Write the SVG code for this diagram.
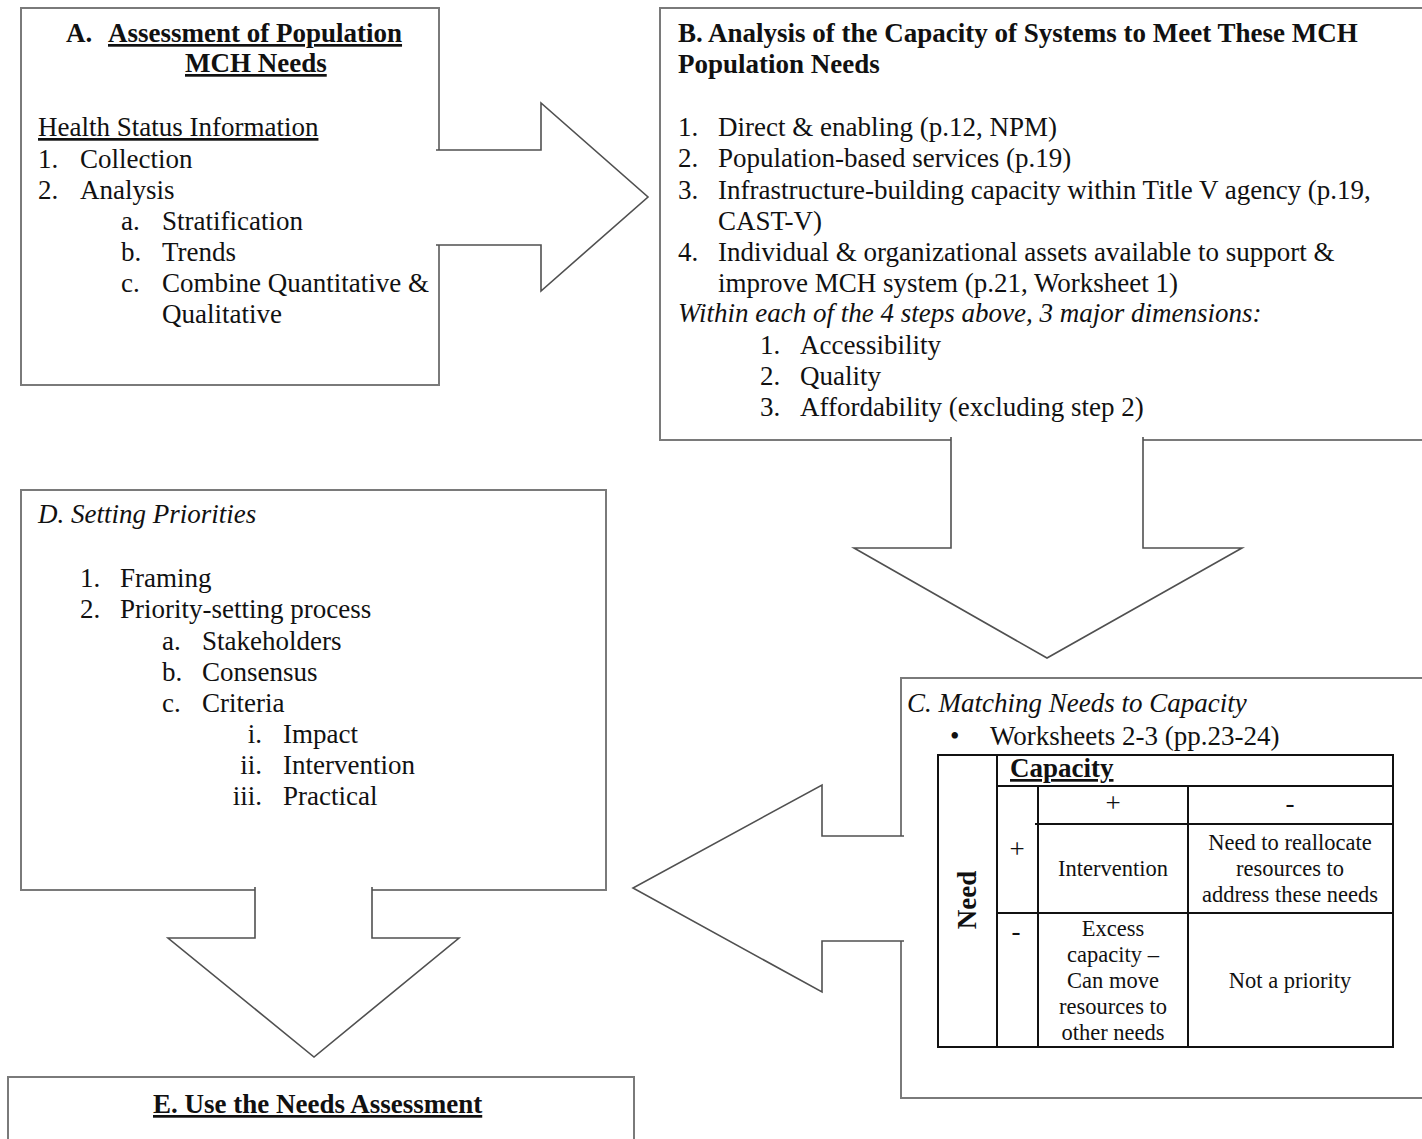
<svg xmlns="http://www.w3.org/2000/svg" width="1422" height="1139" viewBox="0 0 1422 1139">
<style>
  .box { fill: #ffffff; stroke: #7a7a7a; stroke-width: 2; }
  .arrow { fill: #ffffff; stroke: #505050; stroke-width: 1.6; stroke-linejoin: miter; }
  .t { font-family: "Liberation Serif", "Times New Roman", serif; font-size: 27px; fill: #111; }
  .b { font-weight: bold; }
  .i { font-style: italic; }
  .u { text-decoration: underline; }
  .s { font-family: "Liberation Serif", "Times New Roman", serif; font-size: 22.5px; fill: #111; text-anchor: middle; }
  .pm { font-size: 27px; }
  .tl { stroke: #111; stroke-width: 2; fill: none; }
</style>
<rect width="1422" height="1139" fill="#ffffff"/>

<g id="nodeA">
  <rect class="box" x="21" y="8" width="418" height="377"/>
  <text class="t b" x="66" y="42">A.</text>
  <text class="t b u" x="108" y="42">Assessment of Population</text>
  <text class="t b u" x="185" y="72">MCH Needs</text>
  <text class="t u" x="38" y="136">Health Status Information</text>
  <text class="t" x="38" y="168">1.</text><text class="t" x="80" y="168">Collection</text>
  <text class="t" x="38" y="199">2.</text><text class="t" x="80" y="199">Analysis</text>
  <text class="t" x="121" y="230">a.</text><text class="t" x="162" y="230">Stratification</text>
  <text class="t" x="121" y="261">b.</text><text class="t" x="162" y="261">Trends</text>
  <text class="t" x="121" y="292">c.</text><text class="t" x="162" y="292">Combine Quantitative &amp;</text>
  <text class="t" x="162" y="323">Qualitative</text>
</g>

<g id="nodeB">
  <rect class="box" x="660" y="8" width="800" height="432"/>
  <text class="t b" x="678" y="42">B. Analysis of the Capacity of Systems to Meet These MCH</text>
  <text class="t b" x="678" y="73">Population Needs</text>
  <text class="t" x="678" y="136">1.</text><text class="t" x="718" y="136">Direct &amp; enabling (p.12, NPM)</text>
  <text class="t" x="678" y="167">2.</text><text class="t" x="718" y="167">Population-based services (p.19)</text>
  <text class="t" x="678" y="199">3.</text><text class="t" x="718" y="199">Infrastructure-building capacity within Title V agency (p.19,</text>
  <text class="t" x="718" y="230">CAST-V)</text>
  <text class="t" x="678" y="261">4.</text><text class="t" x="718" y="261">Individual &amp; organizational assets available to support &amp;</text>
  <text class="t" x="718" y="292">improve MCH system (p.21, Worksheet 1)</text>
  <text class="t i" x="678" y="322">Within each of the 4 steps above, 3 major dimensions:</text>
  <text class="t" x="760" y="354">1.</text><text class="t" x="800" y="354">Accessibility</text>
  <text class="t" x="760" y="385">2.</text><text class="t" x="800" y="385">Quality</text>
  <text class="t" x="760" y="416">3.</text><text class="t" x="800" y="416">Affordability (excluding step 2)</text>
</g>

<g id="nodeC">
  <rect class="box" x="901" y="678" width="600" height="420"/>
  <text class="t i" x="907" y="712">C. Matching Needs to Capacity</text>
  <text class="t" x="950" y="745">•</text>
  <text class="t" x="990" y="745">Worksheets 2-3 (pp.23-24)</text>
  <g id="matrix">
    <rect class="tl" x="938" y="755" width="455" height="292"/>
    <line class="tl" x1="997" y1="755" x2="997" y2="1047"/>
    <line class="tl" x1="997" y1="786" x2="1393" y2="786"/>
    <line class="tl" x1="1038" y1="786" x2="1038" y2="1047"/>
    <line class="tl" x1="1188" y1="786" x2="1188" y2="1047"/>
    <line class="tl" x1="1035" y1="824" x2="1393" y2="824"/>
    <line class="tl" x1="997" y1="913" x2="1393" y2="913"/>
    <text class="t b u" x="1010" y="777">Capacity</text>
    <text class="t b" x="0" y="0" text-anchor="middle" font-size="26" transform="translate(976,900) rotate(-90)">Need</text>
    <text class="s pm" x="1113" y="812">+</text>
    <text class="s pm" x="1290" y="812">-</text>
    <text class="s pm" x="1017" y="858">+</text>
    <text class="s pm" x="1016" y="940">-</text>
    <text class="s" x="1113" y="876">Intervention</text>
    <text class="s" x="1290" y="850">Need to reallocate</text>
    <text class="s" x="1290" y="876">resources to</text>
    <text class="s" x="1290" y="902">address these needs</text>
    <text class="s" x="1113" y="936">Excess</text>
    <text class="s" x="1113" y="962">capacity –</text>
    <text class="s" x="1113" y="988">Can move</text>
    <text class="s" x="1113" y="1014">resources to</text>
    <text class="s" x="1113" y="1040">other needs</text>
    <text class="s" x="1290" y="988">Not a priority</text>
  </g>
</g>

<g id="nodeD">
  <rect class="box" x="21" y="490" width="585" height="400"/>
  <text class="t i" x="38" y="523">D. Setting Priorities</text>
  <text class="t" x="80" y="587">1.</text><text class="t" x="120" y="587">Framing</text>
  <text class="t" x="80" y="618">2.</text><text class="t" x="120" y="618">Priority-setting process</text>
  <text class="t" x="162" y="650">a.</text><text class="t" x="202" y="650">Stakeholders</text>
  <text class="t" x="162" y="681">b.</text><text class="t" x="202" y="681">Consensus</text>
  <text class="t" x="162" y="712">c.</text><text class="t" x="202" y="712">Criteria</text>
  <text class="t" x="262" y="743" text-anchor="end">i.</text><text class="t" x="283" y="743">Impact</text>
  <text class="t" x="262" y="774" text-anchor="end">ii.</text><text class="t" x="283" y="774">Intervention</text>
  <text class="t" x="262" y="805" text-anchor="end">iii.</text><text class="t" x="283" y="805">Practical</text>
</g>

<g id="nodeE">
  <rect class="box" x="8" y="1077" width="626" height="100"/>
  <text class="t b u" x="153" y="1113">E. Use the Needs Assessment</text>
</g>

<g id="connectors">
  <path id="arrowAB" class="arrow" d="M436,150 L541,150 L541,103 L648,197 L541,291 L541,245 L436,245"/>
  <path id="arrowBC" class="arrow" d="M951,437 L951,548 L854,548 L1047,658 L1242,548 L1143,548 L1143,437"/>
  <path id="arrowCD" class="arrow" d="M904,836 L822,836 L822,785 L633,888 L822,992 L822,941 L904,941"/>
  <path id="arrowDE" class="arrow" d="M255,887 L255,938 L168,938 L314,1057 L459,938 L372,938 L372,887"/>
</g>
</svg>
